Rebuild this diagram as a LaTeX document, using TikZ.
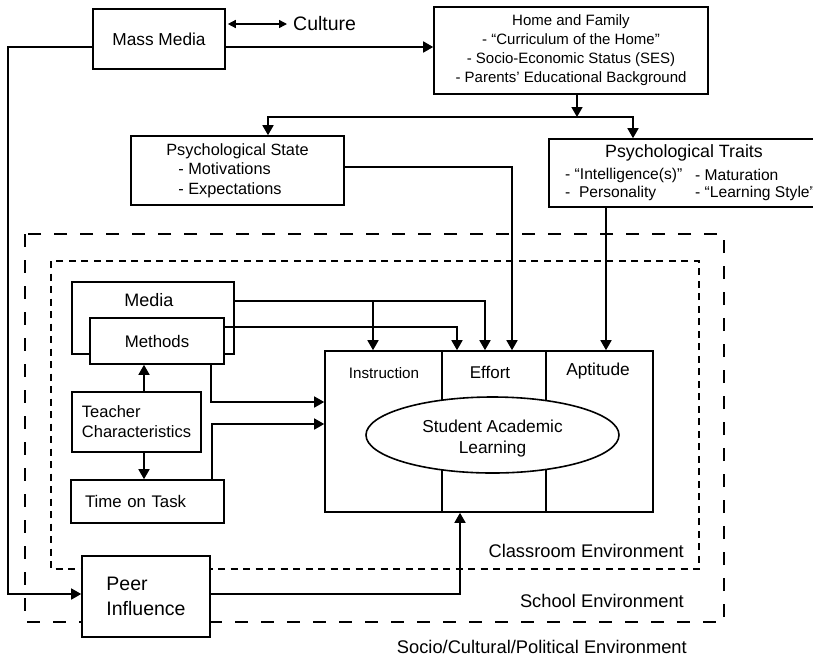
\documentclass[tikz,border=0pt]{standalone}
\usepackage{fontspec}
\setmainfont{Liberation Sans}
\usetikzlibrary{arrows.meta,shapes.geometric}

\begin{document}
\begin{tikzpicture}[x=1pt,y=-1pt,
  box/.style={draw, line width=1.6pt, fill=white, inner sep=0pt},
  link/.style={line width=1.6pt},
  arr/.style={link, -{Triangle[length=10pt,width=11pt]}},
  dbl/.style={line width=1.4pt, {Triangle[length=8pt,width=8pt]}-{Triangle[length=8pt,width=8pt]}},
  txt/.style={inner sep=0pt},
  schoolline/.style={line width=1.8pt, dash pattern=on 13pt off 13pt},
  classline/.style={line width=1.5pt, dash pattern=on 7pt off 5.5pt}
]
\clip (0,0) rectangle (813,657);

% environments
\draw[schoolline] (25,234) rectangle (724,622);
\draw[classline] (51,261) rectangle (699,569);

% outside influences
\node[box, minimum width=132pt, minimum height=60pt, font=\fontsize{17.3}{20}\selectfont] (mass) at (159,39) {Mass Media};
\node[txt, anchor=west, font=\fontsize{19.5}{22}\selectfont] (culture) at (293,24) {Culture};
\node[box, minimum width=274pt, minimum height=87pt, align=center, font=\fontsize{15}{19}\selectfont] (home) at (571,50.5)
  {Home and Family\\- “Curriculum of the Home”\\- Socio-Economic Status (SES)\\- Parents’ Educational Background};

\node[box, minimum width=213pt, minimum height=69pt, align=left, font=\fontsize{16.3}{19.5}\selectfont] (state) at (237.5,170.5)
  {Psychological State\\\hspace*{12pt}- Motivations\\\hspace*{12pt}- Expectations};

\node[box, minimum width=290pt, minimum height=68pt] (traits) at (694,173) {};
\node[txt, font=\fontsize{17.8}{20}\selectfont] (traitsTitle) at (684,153) {Psychological Traits};
\node[txt, anchor=west, font=\fontsize{15.6}{18}\selectfont] (trA) at (565,175) {- “Intelligence(s)”};
\node[txt, anchor=west, font=\fontsize{15.6}{18}\selectfont] (trB) at (695,175) {- Maturation};
\node[txt, anchor=west, font=\fontsize{15.6}{18}\selectfont] (trC) at (565,193) {-\ \ Personality};
\node[txt, anchor=west, font=\fontsize{15.6}{18}\selectfont] (trD) at (695,193) {- “Learning Style”};

% classroom factors
\node[box, minimum width=162pt, minimum height=72pt] (media) at (153,318) {};
\node[txt, font=\fontsize{18}{20}\selectfont] (mediaLbl) at (149,300) {Media};
\node[box, minimum width=134pt, minimum height=46pt, font=\fontsize{16.8}{20}\selectfont] (methods) at (157,341) {Methods};
\node[box, minimum width=129pt, minimum height=60pt, align=left, font=\fontsize{16.5}{20}\selectfont] (teacher) at (136.5,422)
  {Teacher\\Characteristics};
\node[box, minimum width=153pt, minimum height=43pt, text width=125pt, inner xsep=14pt, align=left, font=\fontsize{16.8}{20}\selectfont] (time) at (147.5,501.5)
  {Time on Task};
\node[box, minimum width=128pt, minimum height=81pt, align=left, font=\fontsize{19.5}{25}\selectfont] (peer) at (146,596.5)
  {Peer\\Influence};

% student learning block
\node[box, minimum width=328pt, minimum height=161pt] (main) at (489,431.5) {};
\draw[link] ([xshift=118pt]main.north west) -- ([xshift=118pt]main.south west);
\draw[link] ([xshift=222pt]main.north west) -- ([xshift=222pt]main.south west);
\node[draw, ellipse, line width=1.6pt, fill=white, inner sep=0pt, minimum width=253pt, minimum height=76pt] (sal) at (492.5,435) {};
\node[txt, align=center, font=\fontsize{17.3}{21}\selectfont] (salText) at (492.5,439) {Student Academic\\Learning};
\node[txt, font=\fontsize{15.2}{18}\selectfont] (instr) at (384,373) {Instruction};
\node[txt, font=\fontsize{17}{20}\selectfont] (effort) at (490,372) {Effort};
\node[txt, font=\fontsize{17.3}{20}\selectfont] (apt) at (598,371) {Aptitude};

% environment labels
\node[txt, anchor=east, font=\fontsize{18.3}{22}\selectfont] (classLbl) at (684,551) {Classroom Environment};
\node[txt, anchor=east, font=\fontsize{18.3}{22}\selectfont] (schoolLbl) at (684,601) {School Environment};
\node[txt, anchor=east, font=\fontsize{18.3}{22}\selectfont] (socioLbl) at (687,647) {Socio/Cultural/Political Environment};

% connector end points
\path ([yshift=15pt]mass.east) coordinate (massC);
\path ([yshift=-8pt]mass.east) coordinate (massR);
\path ([yshift=-8pt]mass.west) coordinate (massL);
\coordinate (rail) at (8,594);
\coordinate (split) at (577,117);
\path ([xshift=30.5pt]state.north) coordinate (stateIn);
\path ([xshift=-61pt]traits.north) coordinate (traitsIn);
\path ([xshift=117pt]main.north) coordinate (aptIn);
\path ([xshift=23pt]main.north) coordinate (effC);
\path ([xshift=-4pt]main.north) coordinate (effB);
\path ([xshift=-32pt]main.north) coordinate (effA);
\path ([xshift=-116pt]main.north) coordinate (instrIn);
\path ([yshift=17pt]media.east) coordinate (mediaR);
\path ([yshift=29.5pt]main.west) coordinate (mainInA);
\path ([yshift=7.5pt]main.west) coordinate (mainInB);
\path ([xshift=54pt]methods.south) coordinate (methodsOut);
\path ([xshift=64.5pt]time.north) coordinate (timeOut);
\path ([xshift=7.5pt]teacher.north) coordinate (tcUp);
\path ([xshift=7.5pt]teacher.south) coordinate (tcDown);
\path ([xshift=-29pt]main.south) coordinate (mainBot);
\path ([yshift=2.5pt]peer.east) coordinate (peerR);

% connectors
\draw[dbl, shorten <=2pt, shorten >=6pt] (massC) -- (massC -| culture.west);
\draw[arr] (massR) -- (massR -| home.west);
\draw[arr] (massL) -| (rail) -- (rail -| peer.west);
\draw[arr] (split |- home.south) -- (split);
\draw[arr] (split) -| (stateIn);
\draw[arr] (split) -| (traitsIn);
\draw[arr] (traits.south -| aptIn) -- (aptIn);
\draw[arr] ([yshift=3.5pt]state.east) -| (effC);
\draw[arr] (mediaR) -| (effB);
\draw[arr] (mediaR -| instrIn) -- (instrIn);
\draw[arr] ([yshift=14pt]methods.east) -| (effA);
\draw[arr] (methodsOut) |- (mainInA);
\draw[arr] (timeOut) |- (mainInB);
\draw[arr] (tcUp) -- (tcUp |- methods.south);
\draw[arr] (tcDown) -- (tcDown |- time.north);
\draw[arr] (peerR) -| (mainBot);
\end{tikzpicture}
\end{document}
